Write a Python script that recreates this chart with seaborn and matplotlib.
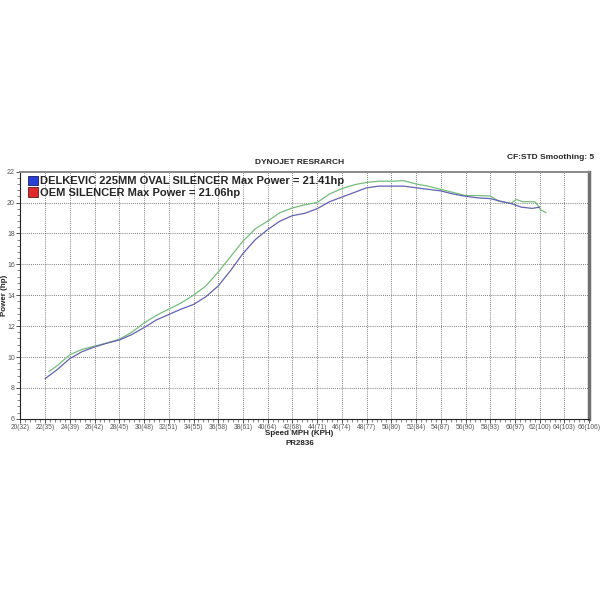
import numpy as np
import pandas as pd
import matplotlib
matplotlib.use("Agg")
import matplotlib.pyplot as plt
from matplotlib.patches import Patch
from matplotlib.ticker import MultipleLocator
import seaborn as sns

# === Data ===
delkevic_mph = [22.3, 23, 24, 25, 26, 27, 28, 29, 30, 31, 32, 33, 34, 35, 36, 37, 38, 39,
                40, 41, 42, 43, 44, 45, 46, 47, 48, 49, 50, 51, 52, 53, 54, 55, 56, 57,
                58, 58.7, 59.7, 60.1, 60.6, 61.6, 61.8, 62.1, 62.5]
delkevic_hp = [9.05, 9.45, 10.15, 10.5, 10.7, 10.9, 11.15, 11.6, 12.2, 12.7, 13.1, 13.5,
               14.0, 14.6, 15.5, 16.5, 17.5, 18.3, 18.8, 19.35, 19.65, 19.85, 20.0, 20.55,
               20.9, 21.15, 21.3, 21.38, 21.38, 21.41, 21.2, 21.05, 20.85, 20.65, 20.45,
               20.45, 20.42, 20.08, 19.95, 20.2, 20.05, 20.05, 19.86, 19.5, 19.35]

oem_mph = [22, 23, 24, 25, 26, 27, 28, 29, 30, 31, 32, 33, 34, 35, 36, 37, 38, 39, 40,
           41, 42, 43, 44, 45, 46, 47, 48, 49, 50, 51, 52, 53, 54, 55, 56, 57, 58, 59,
           59.8, 60.5, 61.4, 62.0]
oem_hp = [8.6, 9.2, 9.9, 10.35, 10.65, 10.9, 11.1, 11.45, 11.9, 12.4, 12.75, 13.1, 13.4,
          13.9, 14.6, 15.6, 16.7, 17.6, 18.25, 18.8, 19.15, 19.3, 19.6, 20.05, 20.35,
          20.65, 20.95, 21.06, 21.06, 21.06, 20.95, 20.85, 20.75, 20.55, 20.4, 20.3,
          20.25, 20.05, 19.9, 19.7, 19.62, 19.7]

x_ticks = [20, 22, 24, 26, 28, 30, 32, 34, 36, 38, 40, 42, 44, 46, 48, 50, 52, 54,
           56, 58, 60, 62, 64, 66]
x_tick_labels = ["20(32)", "22(35)", "24(39)", "26(42)", "28(45)", "30(48)", "32(51)",
                 "34(55)", "36(58)", "38(61)", "40(64)", "42(68)", "44(71)", "46(74)",
                 "48(77)", "50(80)", "52(84)", "54(87)", "56(90)", "58(93)", "60(97)",
                 "62(100)", "64(103)", "66(106)"]
y_ticks = [6, 8, 10, 12, 14, 16, 18, 20, 22]

legend_labels = ["DELKEVIC 225MM OVAL SILENCER Max Power = 21.41hp",
                 "OEM SILENCER Max Power = 21.06hp"]

# === Long-form frame ===
df = pd.concat([
    pd.DataFrame({"mph": delkevic_mph, "hp": delkevic_hp, "run": "DELKEVIC"}),
    pd.DataFrame({"mph": oem_mph, "hp": oem_hp, "run": "OEM"}),
], ignore_index=True)

sns.set_style("white")
plt.rcParams["font.family"] = ["Liberation Sans", "DejaVu Sans"]

fig = plt.figure(figsize=(6, 6), dpi=100)
ax = fig.add_axes([0.034, 0.302, 0.948, 0.412])

sns.lineplot(data=df, x="mph", y="hp", hue="run", sort=False,
             palette={"DELKEVIC": "#74bd7a", "OEM": "#6262b2"},
             linewidth=0.9, legend=False, ax=ax)

ax.set_xlim(20, 66)
ax.set_ylim(6, 22)
ax.set_xticks(x_ticks)
ax.set_xticklabels(x_tick_labels, fontsize=4.8, color="#555555")
ax.set_yticks(y_ticks)
ax.set_yticklabels([str(v) for v in y_ticks], fontsize=5, color="#555555")
ax.xaxis.set_minor_locator(MultipleLocator(0.4))
ax.yaxis.set_minor_locator(MultipleLocator(0.4))
ax.tick_params(which="major", length=3, width=0.6, color="#333333", pad=1, direction="out")
ax.tick_params(which="minor", length=2, width=0.5, color="#555555", direction="out")
ax.tick_params(axis="x", which="both", bottom=True)
ax.tick_params(axis="y", which="both", left=True)
ax.grid(True, which="major", linestyle=(0, (1, 1.5)), color="#555555", linewidth=0.6)

ax.spines["left"].set_color("#222222")
ax.spines["bottom"].set_color("#222222")
ax.spines["top"].set_color("#8a8a8a")
ax.spines["top"].set_linewidth(1.4)
ax.spines["right"].set_color("#707070")
ax.spines["right"].set_linewidth(2.5)

ax.set_xlabel("Speed MPH (KPH)", fontsize=5.8, fontweight="bold")
ax.set_ylabel("Power (hp)", fontsize=5.8, fontweight="bold")
ax.xaxis.set_label_coords(0.49, -0.046)
ax.yaxis.set_label_coords(-0.022, 0.5)

fig.text(0.5, 0.729, "DYNOJET RESRARCH", ha="center", va="center",
         fontsize=6, fontweight="bold")
fig.text(0.99, 0.737, "CF:STD Smoothing: 5", ha="right", va="center",
         fontsize=6, fontweight="bold")
fig.text(0.5, 0.261, "PR2836", ha="center", va="center",
         fontsize=5.8, fontweight="bold")

handles = [Patch(facecolor="#2a3fd6", edgecolor="#1a1a60", linewidth=0.6),
           Patch(facecolor="#e02a2a", edgecolor="#601a1a", linewidth=0.6)]
ax.legend(handles, legend_labels, loc="upper left", bbox_to_anchor=(0.0, 1.015),
          frameon=False, handlelength=0.9, handleheight=0.9, handletextpad=0.2,
          labelspacing=0.12, borderaxespad=0.3,
          prop={"family": "Liberation Sans", "weight": "bold", "size": 8})

fig.savefig("out.png", dpi=100, facecolor="white")
